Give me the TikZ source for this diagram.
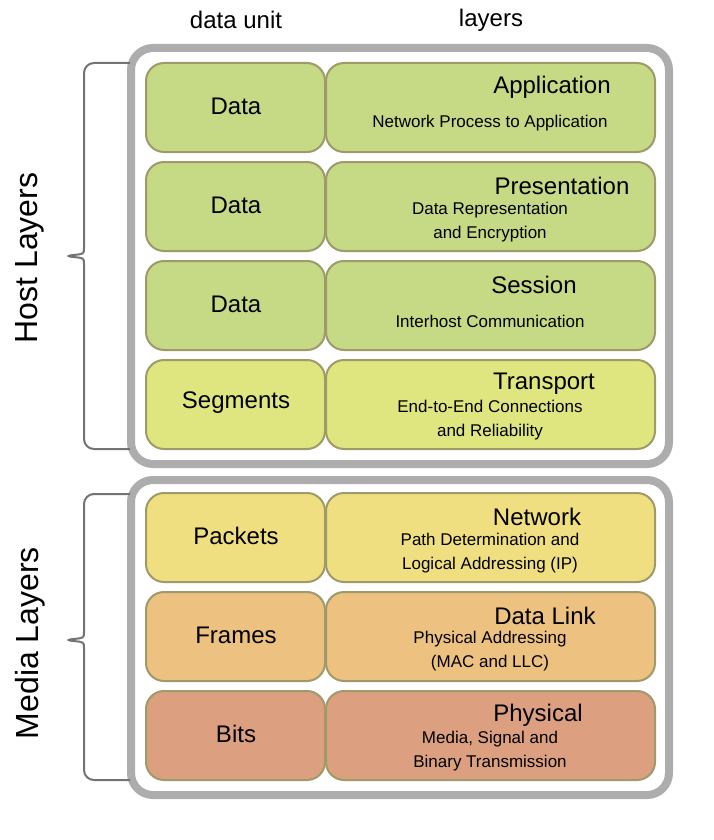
\documentclass[tikz,border=0pt]{standalone}
\usepackage{fontspec}
\setmainfont{Liberation Sans}
\begin{document}
\begin{tikzpicture}[x=1pt,y=-1pt,
 outer/.style={draw=black!32,line width=8pt,rounded corners=22pt,fill=white},
 cell/.style={draw=black!45!olive!60,line width=2pt,rounded corners=18pt},
 brace/.style={draw=black!55,line width=2pt,rounded corners=10pt},
 ttl/.style={font=\fontsize{24}{28}\selectfont,anchor=center},
 sub/.style={font=\fontsize{17}{24}\selectfont,align=center,anchor=center},
 side/.style={font=\fontsize{32}{36}\selectfont,rotate=90,anchor=center}]
\useasboundingbox (0,0) rectangle (714,840);
\definecolor{g1}{HTML}{C6D985}
\definecolor{g2}{HTML}{DFE680}
\definecolor{y1}{HTML}{EFDF80}
\definecolor{o1}{HTML}{EDC180}
\definecolor{r1}{HTML}{DCA080}
\node[font=\fontsize{24}{28}\selectfont] (hdu) at (236,20) {data unit};
\node[font=\fontsize{24}{28}\selectfont] (hl) at (491,20) {layers};
\draw[outer] (131,48) rectangle (669,464);
\draw[outer] (131,480) rectangle (669,795);
\foreach \y/\c/\u/\t/\tx in {
 63/g1/Data/Application/552,
 162/g1/Data/Presentation/562,
 261/g1/Data/Session/534,
 360/g2/Segments/Transport/544,
 493/y1/Packets/Network/537,
 592/o1/Frames/Data Link/545,
 691/r1/Bits/Physical/538}{
 \draw[cell,fill=\c] (146,\y) rectangle (325,\y+89);
 \draw[cell,fill=\c] (326,\y) rectangle (655,\y+89);
 \node[ttl] (u\y) at (236,\y+43) {\u};
 \node[ttl] (t\y) at (\tx,\y+24) {\t};
}
\node[sub] (s1) at (490,123) {Network Process to Application};
\node[sub] (s2) at (490,222) {Data Representation\\and Encryption};
\node[sub] (s3) at (490,321) {Interhost Communication};
\node[sub] (s4) at (490,420) {End-to-End Connections\\and Reliability};
\node[sub] (s5) at (490,553) {Path Determination and\\Logical Addressing (IP)};
\node[sub] (s6) at (490,651) {Physical Addressing\\(MAC and LLC)};
\node[sub] (s7) at (490,751) {Media, Signal and\\Binary Transmission};
\draw[brace] (130,63) -- (84,63) -- (84,238) .. controls (84,254) .. (63,256) .. controls (84,258) .. (84,274) -- (84,449) -- (130,449);
\draw[brace] (130,494) -- (84,494) -- (84,622) .. controls (84,638) .. (63,640) .. controls (84,642) .. (84,658) -- (84,780) -- (130,780);
\node[side] (hostl) at (30,258) {Host Layers};
\node[side] (medl) at (30,643) {Media Layers};
\end{tikzpicture}
\end{document}
